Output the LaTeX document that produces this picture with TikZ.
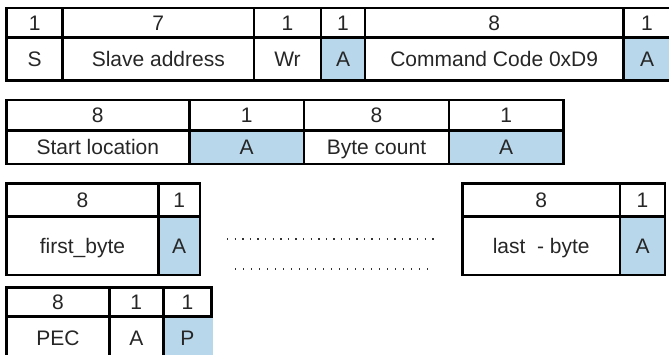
\documentclass[tikz,border=0pt]{standalone}
\usepackage{fontspec}
\setmainfont{Liberation Sans}
\definecolor{ackblue}{RGB}{185,215,235}
\definecolor{txtgray}{RGB}{38,38,38}
\tikzset{
  grid/.style={line width=2.7pt, line cap=rect, black},
  ackfill/.style={fill=ackblue, draw=none},
  lbl/.style={anchor=base, inner sep=0pt, text=txtgray, font=\fontsize{21}{25}\selectfont},
  dotrow/.style={line width=1.3pt, dash pattern=on 1.3pt off 6.3pt, black!80}
}
\begin{document}
\begin{tikzpicture}[x=1pt,y=-1pt]
\useasboundingbox (0,0) rectangle (669,355);
\clip (0,0) rectangle (669,355);
% ---------- row 1 ----------
\fill[ackfill] (321,37.3) rectangle (365,80.7);
\fill[ackfill] (623.5,37.3) rectangle (680,80.7);
\draw[grid] (6.7,8) -- (680,8) (6.7,37.3) -- (680,37.3) (6.7,80.7) -- (680,80.7);
\foreach \x in {6.7,62.7,254,321,365,623.5} \draw[grid] (\x,8) -- (\x,80.7);
\node[lbl] (h1a) at (34.7,30.1) {1};
\node[lbl] (h1b) at (158.3,30.1) {7};
\node[lbl] (h1c) at (287.5,30.1) {1};
\node[lbl] (h1d) at (343,30.1) {1};
\node[lbl] (h1e) at (494.2,30.1) {8};
\node[lbl] (h1f) at (647,30.1) {1};
\node[lbl] (d1a) at (34.7,66.5) {S};
\node[lbl] (d1b) at (158.3,66.5) {Slave address};
\node[lbl] (d1c) at (287.5,66.5) {Wr};
\node[lbl] (d1d) at (343,66.5) {A};
\node[lbl] (d1e) at (494.2,66.5) {Command Code 0xD9};
\node[lbl] (d1f) at (647,66.5) {A};
% ---------- row 2 ----------
\fill[ackfill] (189.3,130.7) rectangle (304,164);
\fill[ackfill] (449,130.7) rectangle (563.3,164);
\draw[grid] (6.3,100) rectangle (563.3,164);
\draw[grid] (6.3,130.7) -- (563.3,130.7);
\foreach \x in {189.3,304,449} \draw[grid] (\x,100) -- (\x,164);
\node[lbl] (h2a) at (97.8,122.8) {8};
\node[lbl] (h2b) at (246.7,122.8) {1};
\node[lbl] (h2c) at (376.5,122.8) {8};
\node[lbl] (h2d) at (506.2,122.8) {1};
\node[lbl] (d2a) at (97.8,154.8) {Start location};
\node[lbl] (d2b) at (246.7,154.8) {A};
\node[lbl] (d2c) at (376.5,154.8) {Byte count};
\node[lbl] (d2d) at (506.2,154.8) {A};
% ---------- row 3 left ----------
\fill[ackfill] (158.3,216.7) rectangle (200,275);
\draw[grid] (6.7,183.3) rectangle (200,275);
\draw[grid] (6.7,216.7) -- (200,216.7);
\draw[grid] (158.3,183.3) -- (158.3,275);
\node[lbl] (h3a) at (82.5,207.5) {8};
\node[lbl] (h3b) at (179.2,207.5) {1};
\node[lbl] (d3a) at (82.5,253.3) {first\_byte};
\node[lbl] (d3b) at (179.2,253.3) {A};
% ---------- dots ----------
\coordinate (dotsAs) at (227,239);
\coordinate (dotsAe) at (436,239);
\coordinate (dotsBs) at (235,269);
\coordinate (dotsBe) at (429,269);
\draw[dotrow] (dotsAs) -- (dotsAe);
\draw[dotrow, dash pattern=on 1.3pt off 6.7pt] (dotsBs) -- (dotsBe);
% ---------- row 3 right ----------
\fill[ackfill] (620,216.7) rectangle (665,275);
\draw[grid] (462.3,183.3) rectangle (665,275);
\draw[grid] (462.3,216.7) -- (665,216.7);
\draw[grid] (620,183.3) -- (620,275);
\node[lbl] (h3c) at (541.2,207.5) {8};
\node[lbl] (h3d) at (642.5,207.5) {1};
\node[lbl] (d3c) at (541.2,253.3) {last\ \ - byte};
\node[lbl] (d3d) at (642.5,253.3) {A};
% ---------- row 4 ----------
\fill[ackfill] (163.3,316.7) rectangle (213.3,370);
\draw[grid] (6.7,287.3) -- (211.7,287.3) (6.7,316.7) -- (211.7,316.7);
\foreach \x in {6.7,109.3,163.3} \draw[grid] (\x,287.3) -- (\x,370);
\draw[grid] (211.7,287.3) -- (211.7,316.7);
\node[lbl] (h4a) at (58,309.5) {8};
\node[lbl] (h4b) at (136.3,309.5) {1};
\node[lbl] (h4c) at (187.5,309.5) {1};
\node[lbl] (d4a) at (58,345) {PEC};
\node[lbl] (d4b) at (136.3,345) {A};
\node[lbl] (d4c) at (187.5,345) {P};
\end{tikzpicture}
\end{document}
